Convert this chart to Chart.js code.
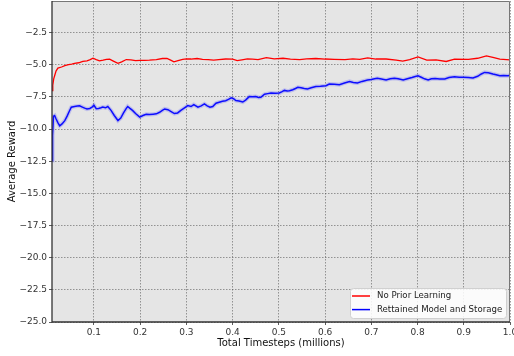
<!DOCTYPE html>
<html>
<head>
<meta charset="utf-8">
<script src="https://cdn.jsdelivr.net/npm/chart.js@4.4.1/dist/chart.umd.min.js"></script>
<style>
  html, body { margin: 0; padding: 0; background: #fff; }
  #wrap { width: 514px; height: 356px; }
</style>
</head>
<body>
<div id="wrap"><canvas id="rewardChart" width="514" height="356"></canvas></div>
<script>
// Reward curves (timesteps in millions)
const redX = [0.0093, 0.011, 0.013, 0.015, 0.018, 0.022, 0.03, 0.037, 0.045, 0.052, 0.058, 0.067, 0.076, 0.085,
  0.092, 0.098, 0.105, 0.112, 0.12, 0.127, 0.134, 0.142, 0.152, 0.16, 0.17, 0.18, 0.19, 0.2, 0.21, 0.22, 0.235,
  0.248, 0.258, 0.266, 0.273, 0.282, 0.292, 0.3, 0.31, 0.323, 0.335, 0.347, 0.359, 0.37, 0.385, 0.4, 0.41, 0.42,
  0.432, 0.443, 0.455, 0.473, 0.49, 0.509, 0.525, 0.545, 0.56, 0.58, 0.6, 0.62, 0.643, 0.66, 0.675, 0.692,
  0.71, 0.732, 0.754, 0.768, 0.783, 0.801, 0.82, 0.84, 0.862, 0.88, 0.91, 0.93, 0.949, 0.963, 0.978, 1.0];
const redY = [-7.02, -6.6, -6.1, -5.86, -5.5, -5.27, -5.18, -5.08, -5.0, -4.95, -4.9, -4.85, -4.75, -4.7,
  -4.6, -4.49, -4.6, -4.7, -4.65, -4.58, -4.57, -4.72, -4.9, -4.78, -4.6, -4.62, -4.68, -4.66, -4.66, -4.65, -4.6,
  -4.52, -4.52, -4.65, -4.78, -4.68, -4.58, -4.55, -4.56, -4.52, -4.58, -4.6, -4.65, -4.6, -4.56, -4.57, -4.68, -4.62,
  -4.55, -4.57, -4.6, -4.45, -4.55, -4.5, -4.57, -4.6, -4.55, -4.52, -4.56, -4.58, -4.6, -4.55, -4.58, -4.47,
  -4.56, -4.56, -4.64, -4.72, -4.6, -4.39, -4.64, -4.62, -4.75, -4.57, -4.58, -4.5, -4.31, -4.44, -4.57, -4.63];

const blueX = [0.0093, 0.0105, 0.0125, 0.015, 0.018, 0.022, 0.026, 0.031, 0.037, 0.042, 0.047, 0.051, 0.058,
  0.064, 0.069, 0.075, 0.08, 0.085, 0.091, 0.096, 0.1, 0.105, 0.11, 0.115, 0.119, 0.125, 0.13, 0.137, 0.144,
  0.152, 0.158, 0.164, 0.17, 0.173, 0.178, 0.184, 0.19, 0.199, 0.206, 0.213, 0.22, 0.228, 0.235, 0.242, 0.248,
  0.253, 0.26, 0.267, 0.274, 0.281, 0.288, 0.296, 0.303, 0.31, 0.316, 0.325, 0.332, 0.339, 0.345, 0.351, 0.357,
  0.364, 0.371, 0.378, 0.385, 0.391, 0.397, 0.402, 0.407, 0.414, 0.422, 0.428, 0.436, 0.443, 0.45, 0.456, 0.461,
  0.469, 0.476, 0.483, 0.492, 0.501, 0.507, 0.512, 0.518, 0.523, 0.53, 0.536, 0.541, 0.548, 0.555, 0.562, 0.57,
  0.58, 0.59, 0.602, 0.609, 0.62, 0.631, 0.642, 0.653, 0.661, 0.67, 0.68, 0.692, 0.7, 0.707, 0.713, 0.722,
  0.732, 0.741, 0.75, 0.758, 0.769, 0.778, 0.788, 0.795, 0.801, 0.808, 0.815, 0.823, 0.83, 0.838, 0.848, 0.859,
  0.868, 0.88, 0.89, 0.899, 0.91, 0.92, 0.93, 0.938, 0.945, 0.953, 0.963, 0.97, 0.978, 0.986, 0.996, 1.0];
const blueY = [-12.44, -10.5, -9.0, -8.95, -9.2, -9.5, -9.75, -9.6, -9.35, -9.0, -8.6, -8.3, -8.25,
  -8.22, -8.2, -8.3, -8.38, -8.45, -8.4, -8.3, -8.15, -8.42, -8.4, -8.35, -8.3, -8.35, -8.25, -8.55, -8.95,
  -9.34, -9.15, -8.75, -8.4, -8.25, -8.4, -8.57, -8.8, -9.08, -8.95, -8.85, -8.88, -8.85, -8.82, -8.7, -8.55,
  -8.44, -8.5, -8.65, -8.8, -8.75, -8.55, -8.35, -8.18, -8.25, -8.1, -8.3, -8.2, -8.05, -8.2, -8.3, -8.25,
  -8.0, -7.92, -7.85, -7.8, -7.7, -7.58, -7.65, -7.79, -7.82, -7.9, -7.75, -7.48, -7.5, -7.48, -7.55, -7.53,
  -7.3, -7.25, -7.2, -7.22, -7.2, -7.1, -7.0, -7.05, -7.02, -6.95, -6.85, -6.76, -6.8, -6.85, -6.89, -6.8,
  -6.7, -6.68, -6.63, -6.5, -6.52, -6.55, -6.42, -6.3, -6.38, -6.42, -6.3, -6.19, -6.15, -6.1, -6.06, -6.12,
  -6.19, -6.1, -6.05, -6.1, -6.19, -6.1, -6.0, -5.92, -5.86, -5.98, -6.1, -6.19, -6.1, -6.08, -6.12, -6.11,
  -6.0, -5.93, -5.97, -5.98, -6.0, -6.04, -5.9, -5.72, -5.6, -5.62, -5.72, -5.78, -5.86, -5.85, -5.86, -5.82];

const xTicks = [0.1, 0.2, 0.3, 0.4, 0.5, 0.6, 0.7, 0.8, 0.9, 1.0];
const yTicks = [-25, -22.5, -20, -17.5, -15, -12.5, -10, -7.5, -5, -2.5];
const seriesNames = ['No Prior Learning', 'Rettained Model and Storage'];

const FONT = 'DejaVu Sans';

function toPoints(xs, ys) {
  return xs.map((x, i) => ({ x: x, y: ys[i] }));
}

// plot background + frame
const frame = {
  id: 'frame',
  beforeDraw(chart) {
    const { ctx, chartArea: a } = chart;
    ctx.save();
    ctx.fillStyle = '#e5e5e5';
    ctx.fillRect(a.left, a.top, a.right - a.left, a.bottom - a.top);
    ctx.restore();
  },
  afterDatasetsDraw(chart) {
    const { ctx, chartArea: a } = chart;
    ctx.save();
    ctx.setLineDash([]);
    ctx.lineWidth = 1;
    ctx.strokeStyle = '#777';
    ctx.beginPath();
    ctx.moveTo(a.left, a.top + 0.5);
    ctx.lineTo(a.right - 0.5, a.top + 0.5);
    ctx.lineTo(a.right - 0.5, a.bottom);
    ctx.stroke();
    ctx.lineWidth = 1.3;
    ctx.strokeStyle = '#333';
    ctx.beginPath();
    ctx.moveTo(a.left, a.top);
    ctx.lineTo(a.left, a.bottom);
    ctx.lineTo(a.right, a.bottom);
    ctx.stroke();
    ctx.restore();
  }
};

// legend drawn inside the plot, lower right
const boxLegend = {
  id: 'boxLegend',
  afterDraw(chart) {
    const { ctx, chartArea: a } = chart;
    const items = chart.data.datasets.filter(d => d.label);
    const w = 156, h = 30;
    const x0 = a.right - w - 4, y0 = a.bottom - h - 4;
    ctx.save();
    ctx.fillStyle = 'rgba(255,255,255,0.85)';
    ctx.strokeStyle = '#d0d0d0';
    ctx.lineWidth = 1;
    ctx.beginPath();
    ctx.roundRect(x0 + 0.5, y0 + 0.5, w, h, 3);
    ctx.fill();
    ctx.stroke();
    ctx.font = '8.6px "' + FONT + '"';
    ctx.textBaseline = 'middle';
    items.forEach((d, i) => {
      const y = y0 + 8 + i * 13.6;
      ctx.strokeStyle = d.borderColor;
      ctx.lineWidth = 1.5;
      ctx.beginPath();
      ctx.moveTo(x0 + 2, y);
      ctx.lineTo(x0 + 20, y);
      ctx.stroke();
      ctx.fillStyle = '#222';
      ctx.fillText(d.label, x0 + 27, y);
    });
    ctx.restore();
  }
};

const fmt = v => v.toFixed(1).replace('-', '\u2212');

const gridOpts = { color: 'rgba(80,80,80,0.7)', lineWidth: 0.8, tickLength: 3, tickColor: '#333', tickBorderDash: [] };

const ctx = document.getElementById('rewardChart').getContext('2d');
const chart = new Chart(ctx, {
  type: 'line',
  data: {
    datasets: [
      {
        data: toPoints(blueX, blueY),
        borderColor: 'rgba(60,60,255,0.22)',
        borderWidth: 4,
        pointRadius: 0,
        tension: 0
      },
      {
        label: seriesNames[0],
        data: toPoints(redX, redY),
        borderColor: '#ff0000',
        borderWidth: 1.3,
        pointRadius: 0,
        tension: 0
      },
      {
        label: seriesNames[1],
        data: toPoints(blueX, blueY),
        borderColor: '#0000ff',
        borderWidth: 1.5,
        pointRadius: 0,
        tension: 0
      }
    ]
  },
  options: {
    responsive: false,
    animation: false,
    layout: { padding: { top: 1, right: 4, left: 0, bottom: 0 } },
    plugins: {
      legend: { display: false },
      tooltip: { enabled: false }
    },
    scales: {
      x: {
        type: 'linear',
        min: 0.0093,
        max: 1.0,
        afterBuildTicks: s => { s.ticks = xTicks.map(v => ({ value: v })); },
        afterFit: s => { s.height = 34; s.paddingLeft = 0; s.paddingRight = 0; },
        grid: gridOpts,
        border: { display: false, dash: [1.5, 1.5] },
        ticks: { color: '#333', padding: 2, maxRotation: 0, autoSkip: false,
          font: { family: FONT, size: 9 }, callback: v => v.toFixed(1) },
        title: { display: true, text: 'Total Timesteps (millions)', color: '#111',
          font: { family: FONT, size: 10 }, padding: { top: 0, bottom: 7 } }
      },
      y: {
        type: 'linear',
        min: -25,
        max: -0.05,
        afterBuildTicks: s => { s.ticks = yTicks.map(v => ({ value: v })); },
        afterFit: s => { s.width = 52; s.paddingTop = 0; s.paddingBottom = 0; },
        grid: gridOpts,
        border: { display: false, dash: [1.5, 1.5] },
        ticks: { color: '#333', padding: 2, autoSkip: false,
          font: { family: FONT, size: 9 }, callback: v => fmt(v) },
        title: { display: true, text: 'Average Reward', color: '#111',
          font: { family: FONT, size: 10 }, padding: { top: 6, bottom: 0 } }
      }
    }
  },
  plugins: [frame, boxLegend]
});
</script>
</body>
</html>
